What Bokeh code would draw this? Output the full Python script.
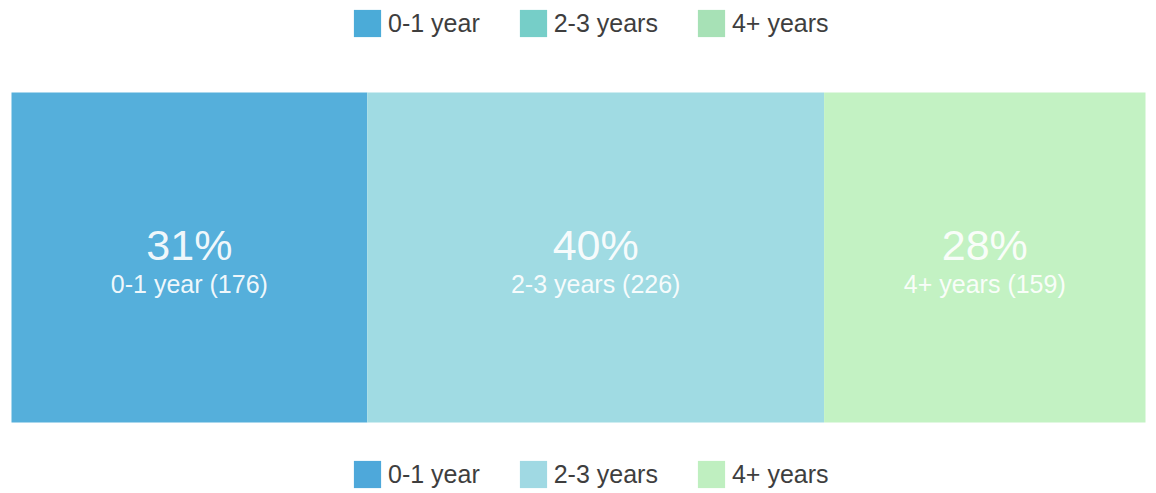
from bokeh.plotting import figure
from bokeh.models import Range1d, ColumnDataSource, Legend, LegendItem
from bokeh.core.properties import value
from bokeh.embed import file_html
from bokeh.resources import INLINE

# ---- data ----
categories = ["0-1 year", "2-3 years", "4+ years"]
counts = [176, 226, 159]
percent_labels = ["31%", "40%", "28%"]
bar_colors = ["#55afdb", "#a0dbe3", "#c3f2c3"]
top_legend_colors = ["#4babd8", "#76cec8", "#a7e1b6"]
bottom_legend_colors = ["#4ea8da", "#a0d9e3", "#bfefc0"]

total = sum(counts)
lefts, rights = [], []
acc = 0
for c in counts:
    lefts.append(acc)
    acc += c
    rights.append(acc)
centers = [(l + r) / 2 for l, r in zip(lefts, rights)]
sublabels = [f"{cat} ({c})" for cat, c in zip(categories, counts)]

src = ColumnDataSource(dict(left=lefts, right=rights, center=centers,
                            color=bar_colors, pct=percent_labels, sub=sublabels))

W, H = 1156, 493
bar_x0, bar_x1 = 11, 1145
bar_y0, bar_y1 = 92, 422
px_per_unit = (bar_x1 - bar_x0) / total
bar_px = bar_y1 - bar_y0

p = figure(width=W, height=H, output_backend="svg", toolbar_location=None,
           x_range=Range1d(-bar_x0 / px_per_unit, total + (W - bar_x1) / px_per_unit),
           y_range=Range1d(-(H - bar_y1) / bar_px, 1 + bar_y0 / bar_px),
           min_border=0, outline_line_color=None)
p.axis.visible = False
p.grid.visible = False
p.background_fill_color = "white"
p.border_fill_color = "white"

bars = p.hbar(y=0.5, left="left", right="right", height=1.0, fill_color="color",
              line_color=None, source=src)

p.text(x="center", y=0.5, text="pct", source=src, text_align="center",
       text_baseline="middle", y_offset=-13, text_color="white", text_alpha=0.92,
       text_font=value("Liberation Sans"), text_font_size="43px")
p.text(x="center", y=0.5, text="sub", source=src, text_align="center",
       text_baseline="middle", y_offset=26, text_color="white", text_alpha=0.92,
       text_font=value("Liberation Sans"), text_font_size="25px")

GW = 34  # legend glyph box (swatch is drawn at 80% of it)

def make_legend(colors, loc):
    # zero-width swatch renderer that only feeds the legend
    r = p.hbar(y=0.5, left=lefts, right=lefts, height=0,
               fill_color=colors, line_color=None)
    items = [LegendItem(label=cat, renderers=[r], index=i)
             for i, cat in enumerate(categories)]
    lg = Legend(items=items, orientation="horizontal", location=loc,
                glyph_width=GW, glyph_height=GW, label_standoff=4, spacing=36,
                padding=0, margin=0, border_line_alpha=0, background_fill_alpha=0,
                label_text_font="Liberation Sans", label_text_font_size="25px",
                label_text_color="#3e3e3e", label_height=GW)
    p.add_layout(lg, "center")

make_legend(top_legend_colors, (350, H - 6 - GW))
make_legend(bottom_legend_colors, (350, H - 457 - GW))

open("out.html", "w").write(file_html(p, INLINE))
